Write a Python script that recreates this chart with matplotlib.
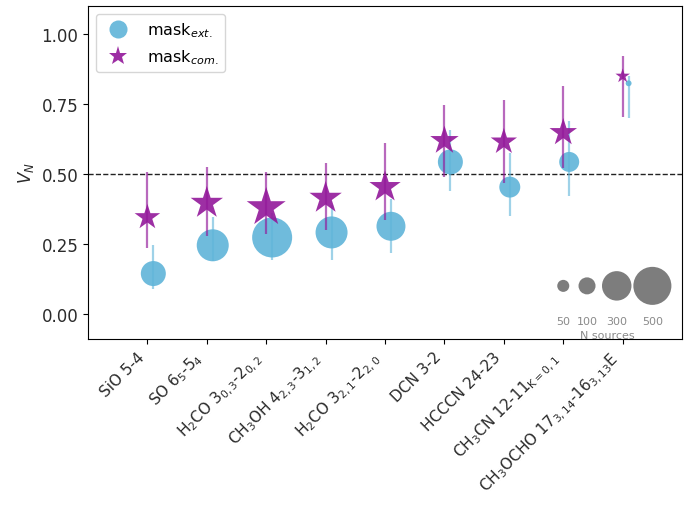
import matplotlib

matplotlib.use("Agg")
import matplotlib.pyplot as plt
import numpy as np
from matplotlib.lines import Line2D

PURPLE = "#93189a"
BLUE = "#5fb4d9"
GREY = "#6f6f6f"
INK = "#2b2b2b"

lines = [
    "SiO 5-4",
    "SO 6$_5$-5$_4$",
    "H$_2$CO 3$_{0,3}$-2$_{0,2}$",
    "CH$_3$OH 4$_{2,3}$-3$_{1,2}$",
    "H$_2$CO 3$_{2,1}$-2$_{2,0}$",
    "DCN 3-2",
    "HCCCN 24-23",
    "CH$_3$CN 12-11$_{\\mathrm{K=0,1}}$",
    "CH$_3$OCHO 17$_{3,14}$-16$_{3,13}$E",
]

# mask_com. (stars)
v_com = [0.345, 0.396, 0.380, 0.414, 0.453, 0.619, 0.615, 0.648, 0.850]
lo_com = [0.237, 0.280, 0.284, 0.300, 0.335, 0.490, 0.468, 0.520, 0.705]
hi_com = [0.507, 0.525, 0.507, 0.540, 0.610, 0.748, 0.763, 0.813, 0.920]
n_com = [250, 400, 580, 400, 375, 310, 265, 290, 80]

# mask_ext. (circles)
v_ext = [0.144, 0.245, 0.273, 0.291, 0.313, 0.543, 0.453, 0.543, 0.824]
lo_ext = [0.090, 0.190, 0.194, 0.194, 0.216, 0.440, 0.350, 0.420, 0.700]
hi_ext = [0.245, 0.345, 0.360, 0.390, 0.410, 0.658, 0.575, 0.690, 0.850]
n_ext = [216, 354, 553, 354, 290, 216, 152, 138, 12]

size_ref = [50, 100, 300, 500]
size_ref_x = [7.0, 7.4, 7.9, 8.5]

SCALE = 1.5

x = np.arange(len(lines))
v_com, lo_com, hi_com = map(np.array, (v_com, lo_com, hi_com))
v_ext, lo_ext, hi_ext = map(np.array, (v_ext, lo_ext, hi_ext))

plt.rcParams.update({
    "font.family": "DejaVu Sans",
    "font.size": 12,
    "xtick.labelcolor": INK,
    "ytick.labelcolor": INK,
    "axes.labelcolor": INK,
})

fig = plt.figure(figsize=(6.96, 5.06), dpi=100)
ax = fig.add_axes([0.1264, 0.328, 0.8536, 0.658])

ax.axhline(0.5, color="#222222", ls="--", lw=1.0, zorder=1)

xe = x + 0.1
ax.errorbar(xe, v_ext, yerr=[v_ext - lo_ext, hi_ext - v_ext], fmt="none",
            ecolor=BLUE, elinewidth=1.6, alpha=0.6, zorder=2)
ax.scatter(xe, v_ext, s=np.array(n_ext) * SCALE, color=BLUE, alpha=0.9,
           edgecolors="none", zorder=3)

ax.errorbar(x, v_com, yerr=[v_com - lo_com, hi_com - v_com], fmt="none",
            ecolor=PURPLE, elinewidth=1.6, alpha=0.65, zorder=4)
ax.scatter(x, v_com, s=np.array(n_com) * SCALE, marker="*", color=PURPLE,
           alpha=0.9, edgecolors="none", zorder=5)

# size key
ax.scatter(size_ref_x, [0.1] * len(size_ref), s=np.array(size_ref) * SCALE,
           color=GREY, alpha=0.9, edgecolors="none", zorder=3)
for xx, n in zip(size_ref_x, size_ref):
    ax.text(xx, -0.025, str(n), ha="center", va="center", fontsize=8, color="#8a8a8a")
ax.text(7.74, -0.075, "N sources", ha="center", va="center", fontsize=8, color="#8a8a8a")

ax.set_xlim(-1, 9)
ax.set_ylim(-0.09, 1.1)
ax.set_yticks([0, 0.25, 0.5, 0.75, 1.0])
ax.set_yticklabels([f"{t:.2f}" for t in [0, 0.25, 0.5, 0.75, 1.0]])
ax.set_xticks(x)
ax.set_xticklabels(lines, rotation=45, ha="right", fontsize=11)
ax.set_ylabel("$V_N$", fontsize=12)

handles = [
    Line2D([], [], ls="none", marker="o", markersize=13, color=BLUE, alpha=0.9, markeredgewidth=0),
    Line2D([], [], ls="none", marker="*", markersize=14, color=PURPLE, alpha=0.9, markeredgewidth=0),
]
ax.legend(handles, ["mask$_{ext.}$", "mask$_{com.}$"], loc="upper left", fontsize=11.5)

fig.savefig("out.png", dpi=100)
